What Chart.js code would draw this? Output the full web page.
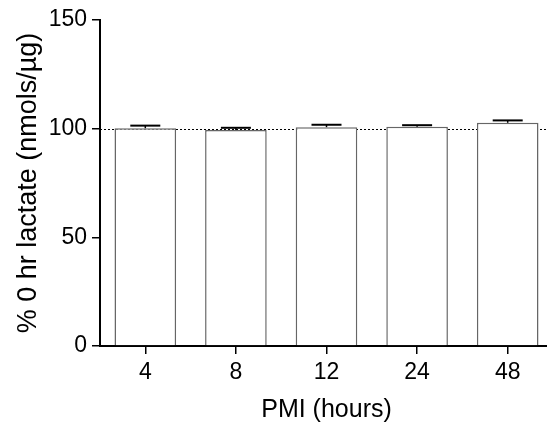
<!DOCTYPE html>
<html>
<head>
<meta charset="utf-8">
<script src="https://cdn.jsdelivr.net/npm/chart.js@4"></script>
<style>
  html,body{margin:0;padding:0;background:#fff;overflow:hidden;}
  #wrap{width:553px;height:433px;}
</style>
</head>
<body>
<div id="wrap"><canvas id="c" width="553" height="433"></canvas></div>
<script>
// data
const categories = ["4", "8", "12", "24", "48"];
const means = [100.2, 99.4, 100.7, 100.9, 102.7];
const errors = [1.2, 1.0, 1.1, 0.7, 1.1];
const yTicks = [0, 50, 100, 150];
const refLine = 100;

const FONT = "'Liberation Sans', Arial, sans-serif";

// dotted line at 100% drawn behind the bars
const refPlugin = {
  id: "refLine",
  beforeDatasetsDraw(chart){
    const {ctx, chartArea, scales} = chart;
    const y = Math.round(scales.y.getPixelForValue(refLine)) + 0.5;
    ctx.save();
    ctx.strokeStyle = "#000";
    ctx.lineWidth = 1;
    ctx.setLineDash([2, 2]);
    ctx.beginPath();
    ctx.moveTo(chartArea.left, y);
    ctx.lineTo(chartArea.right, y);
    ctx.stroke();
    ctx.restore();
  }
};

// upper error bars (mean + SEM)
const errPlugin = {
  id: "errBars",
  afterDatasetsDraw(chart){
    const {ctx, scales} = chart;
    const meta = chart.getDatasetMeta(0);
    ctx.save();
    ctx.strokeStyle = "#000";
    meta.data.forEach((bar, i) => {
      const x = bar.x;
      const yTop = scales.y.getPixelForValue(means[i]);
      const yErr = scales.y.getPixelForValue(means[i] + errors[i]);
      ctx.lineWidth = 1.5;
      ctx.beginPath();
      ctx.moveTo(x, yTop);
      ctx.lineTo(x, yErr);
      ctx.stroke();
      ctx.lineWidth = 2;
      ctx.beginPath();
      ctx.moveTo(x - 15, yErr);
      ctx.lineTo(x + 15, yErr);
      ctx.stroke();
    });
    ctx.restore();
  }
};

new Chart(document.getElementById("c"), {
  type: "bar",
  data: {
    labels: categories,
    datasets: [{
      data: means,
      backgroundColor: "#fff",
      borderColor: "#666",
      borderWidth: 1.5,
      categoryPercentage: 1,
      barPercentage: 0.68
    }]
  },
  options: {
    responsive: false,
    animation: false,
    devicePixelRatio: 1,
    layout: {padding: {top: 20, left: 0, right: 0, bottom: 0}},
    plugins: {legend: {display: false}, tooltip: {enabled: false}},
    scales: {
      x: {
        afterFit(axis){ axis.height = 87; },
        grid: {display: true, offset: false, drawOnChartArea: false, drawTicks: true, tickLength: 8, tickColor: "#000", lineWidth: 1.5},
        border: {color: "#000", width: 2},
        ticks: {color: "#000", font: {family: FONT, size: 23}, padding: 5},
        title: {display: true, text: "PMI (hours)", color: "#000", font: {family: FONT, size: 25}, padding: {top: 4, bottom: 8}}
      },
      y: {
        min: 0, max: 150,
        afterBuildTicks(axis){ axis.ticks = yTicks.map(v => ({value: v})); },
        afterFit(axis){ axis.width = 100; },
        grid: {display: true, drawOnChartArea: false, drawTicks: true, tickLength: 8, tickColor: "#000", lineWidth: 1.5},
        border: {color: "#000", width: 2},
        ticks: {color: "#000", font: {family: FONT, size: 23}, padding: 5},
        title: {display: true, text: "% 0 hr lactate (nmols/µg)", color: "#000", font: {family: FONT, size: 27}, padding: {top: 12, bottom: 4}}
      }
    }
  },
  plugins: [refPlugin, errPlugin]
});
</script>
</body>
</html>
